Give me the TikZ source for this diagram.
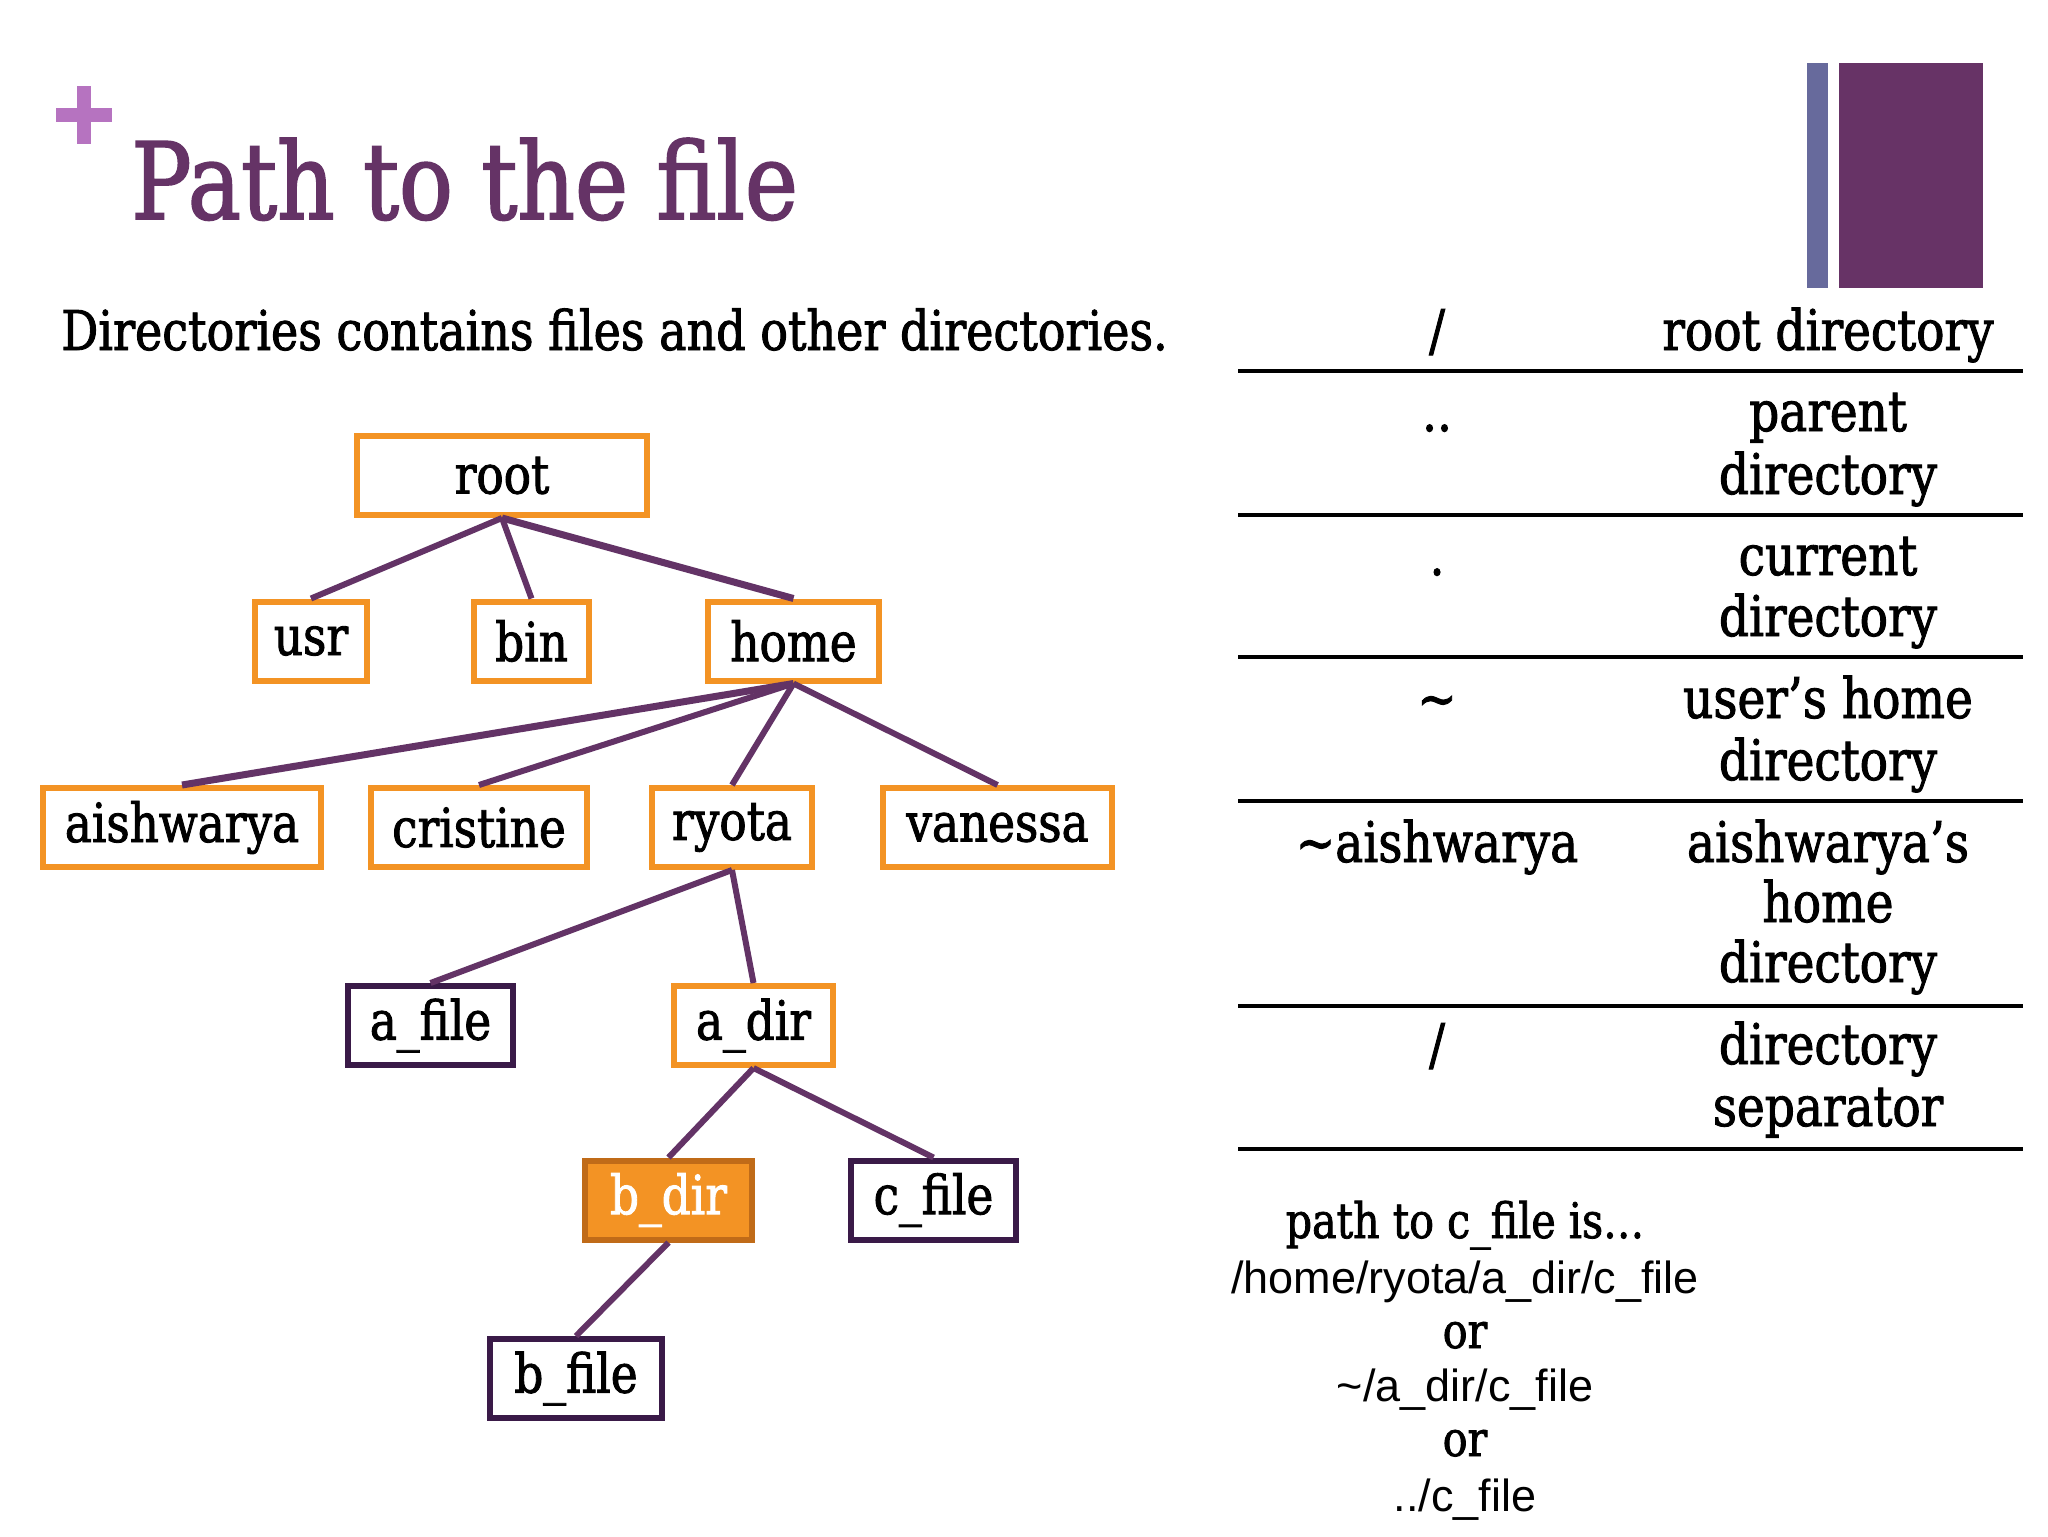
\documentclass[tikz,border=0pt]{standalone}
\usepackage{fontspec}
\newfontfamily\rock[FakeStretch=0.84,FakeBold=1.6]{DejaVu Serif}
\newfontfamily\arial{Liberation Sans}
\definecolor{orng}{HTML}{F39324}
\definecolor{dkorng}{HTML}{C06B18}
\definecolor{dkpurp}{HTML}{3A1A48}
\definecolor{edgec}{HTML}{633366}
\definecolor{titlec}{HTML}{653366}
\definecolor{plusc}{HTML}{B673C0}
\definecolor{barblue}{HTML}{676A9C}
\definecolor{barpurp}{HTML}{673366}
\tikzset{
  box/.style={line width=3pt, fill=white, inner sep=0pt, minimum height=39.5pt,
    font=\rock\fontsize{27}{30}\selectfont, text=black},
  dirbox/.style={box, draw=orng},
  filebox/.style={box, draw=dkpurp},
  selbox/.style={box, draw=dkorng, fill=orng, text=white},
  edge/.style={draw=edgec, line width=3pt},
  tabtxt/.style={anchor=base, inner sep=0pt, font=\rock\fontsize{28}{31}\selectfont},
  pathtxt/.style={anchor=base, inner sep=0pt, font=\arial\fontsize{22.5}{25}\selectfont},
  pathrock/.style={anchor=base, inner sep=0pt, font=\rock\fontsize{24.5}{27}\selectfont},
  rule/.style={draw=black, line width=1.6pt}
}
\begin{document}
\begin{tikzpicture}[x=0.5pt,y=-0.5pt]
\useasboundingbox (0,0) rectangle (2048,1536);
\fill[white] (0,0) rectangle (2048,1536);
% decorations
\fill[plusc] (56,108) rectangle (112,122);
\fill[plusc] (77,86) rectangle (91,144);
\fill[barblue] (1807,63) rectangle (1828,288);
\fill[barpurp] (1839,63) rectangle (1983,288);
% title
\node[anchor=base west, inner sep=0pt, text=titlec, font=\rock\fontsize{53.3}{60}\selectfont] (title) at (131,219) {Path to the file};
\node[anchor=base west, inner sep=0pt, font=\rock\fontsize{27.4}{30}\selectfont] (sub) at (61,350) {Directories contains files and other directories.};
% tree
\node[dirbox, minimum width=145pt] (root) at (502,475.5) {root};
\node[dirbox, minimum width=56pt] (usr) at (311,641) {usr};
\node[dirbox, minimum width=57.5pt] (bin) at (531.5,641) {bin};
\node[dirbox, minimum width=85.5pt] (home) at (793.5,641) {home};
\node[dirbox, minimum width=139pt] (aish) at (182,827.5) {aishwarya};
\node[dirbox, minimum width=108pt] (cris) at (479,827.5) {cristine};
\node[dirbox, minimum width=80pt] (ryota) at (732,827.5) {ryota};
\node[dirbox, minimum width=114.5pt] (van) at (997.5,827.5) {vanessa};
\node[filebox, minimum width=82.5pt] (afile) at (430.5,1025.5) {a\_file};
\node[dirbox, minimum width=79.5pt] (adir) at (753.5,1025.5) {a\_dir};
\node[selbox, minimum width=83.5pt] (bdir) at (668.5,1200) {b\_dir};
\node[filebox, minimum width=82.5pt] (cfile) at (933.5,1200) {c\_file};
\node[filebox, minimum width=86pt] (bfile) at (576,1378.5) {b\_file};
\draw[edge] (root.south) -- (usr.north);
\draw[edge] (root.south) -- (bin.north);
\draw[edge, line width=3.5pt] (root.south) -- (home.north);
\draw[edge, line width=3.5pt] (home.south) -- (aish.north);
\draw[edge] (home.south) -- (cris.north);
\draw[edge] (home.south) -- (ryota.north);
\draw[edge] (home.south) -- (van.north);
\draw[edge] (ryota.south) -- (afile.north);
\draw[edge] (ryota.south) -- (adir.north);
\draw[edge] (adir.south) -- (bdir.north);
\draw[edge] (adir.south) -- (cfile.north);
\draw[edge] (bdir.south) -- (bfile.north);
% table
\draw[rule] (1238,371) coordinate (r1a) -- (2023,371) coordinate (r1b);
\draw[rule] (1238,515) coordinate (r2a) -- (2023,515) coordinate (r2b);
\draw[rule] (1238,657) coordinate (r3a) -- (2023,657) coordinate (r3b);
\draw[rule] (1238,801) coordinate (r4a) -- (2023,801) coordinate (r4b);
\draw[rule] (1238,1006) coordinate (r5a) -- (2023,1006) coordinate (r5b);
\draw[rule] (1238,1149) coordinate (r6a) -- (2023,1149) coordinate (r6b);
\node[tabtxt] (k1) at (1437,350) {/};
\node[tabtxt] (v1) at (1828,350) {root directory};
\node[tabtxt] (k2) at (1437,431) {..};
\node[tabtxt] (v2a) at (1828,431) {parent};
\node[tabtxt] (v2b) at (1828,494) {directory};
\node[tabtxt] (k3) at (1437,575) {.};
\node[tabtxt] (v3a) at (1828,575) {current};
\node[tabtxt] (v3b) at (1828,636) {directory};
\node[tabtxt] (k4) at (1437,718) {\textasciitilde};
\node[tabtxt] (v4a) at (1828,718) {user’s home};
\node[tabtxt] (v4b) at (1828,780) {directory};
\node[tabtxt] (k5) at (1437,862) {\textasciitilde aishwarya};
\node[tabtxt] (v5a) at (1828,862) {aishwarya’s};
\node[tabtxt] (v5b) at (1828,922) {home};
\node[tabtxt] (v5c) at (1828,982) {directory};
\node[tabtxt] (k6) at (1437,1064) {/};
\node[tabtxt] (v6a) at (1828,1064) {directory};
\node[tabtxt] (v6b) at (1828,1126) {separator};
% path text
\node[pathrock] (p1) at (1465,1238) {path to c\_file is…};
\node[pathtxt] (p2) at (1465,1293) {/home/ryota/a\_dir/c\_file};
\node[pathrock] (p3) at (1465,1348) {or};
\node[pathtxt] (p4) at (1465,1401) {\textasciitilde/a\_dir/c\_file};
\node[pathrock] (p5) at (1465,1456) {or};
\node[pathtxt] (p6) at (1465,1511) {../c\_file};
\end{tikzpicture}
\end{document}
